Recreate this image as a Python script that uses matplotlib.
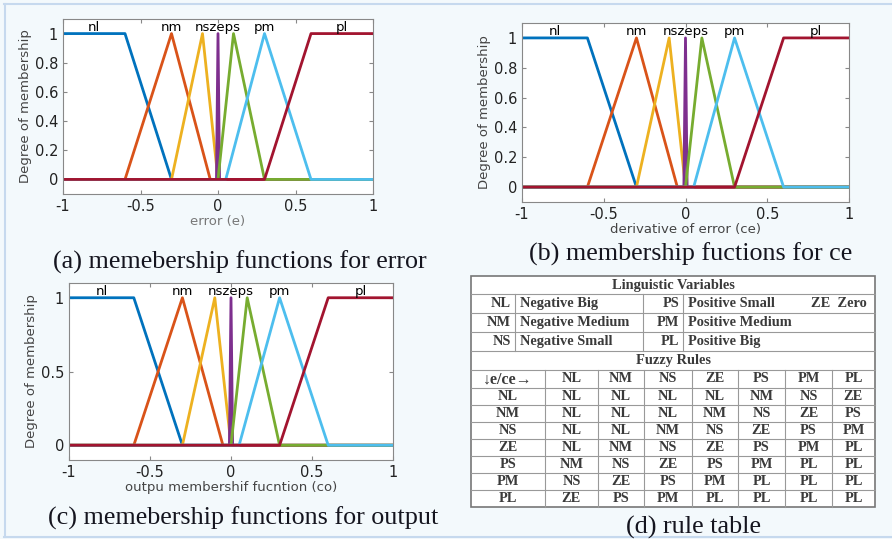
import numpy as np
import matplotlib.pyplot as plt

# membership functions (same sets on e, ce and output)
mf_names = ["nl", "nm", "ns", "ze", "ps", "pm", "pl"]
mf_points = [
    [-1.0, -1.0, -0.6, -0.3],
    [-0.6, -0.3, -0.3, -0.05],
    [-0.3, -0.1, -0.1, 0.0],
    [-0.01, 0.0, 0.0, 0.01],
    [0.0, 0.1, 0.1, 0.3],
    [0.05, 0.3, 0.3, 0.6],
    [0.3, 0.6, 1.0, 1.0],
]
label_x = [-0.8, -0.3, -0.12, 0.0, 0.11, 0.3, 0.8]
mf_colors = ["#0072BD", "#D95319", "#EDB120", "#7E2F8E", "#77AC30", "#4DBEEE", "#A2142F"]

# linguistic variables
ling_rows = [["NL", "Negative Big", "PS", "Positive Small", "ZE  Zero"],
             ["NM", "Negative Medium", "PM", "Positive Medium", ""],
             ["NS", "Negative Small", "PL", "Positive Big", ""]]

# rule table
rule_cols = ["NL", "NM", "NS", "ZE", "PS", "PM", "PL"]
rule_rows = ["NL", "NM", "NS", "ZE", "PS", "PM", "PL"]
rules = [
    ["NL", "NL", "NL", "NL", "NM", "NS", "ZE"],
    ["NL", "NL", "NL", "NM", "NS", "ZE", "PS"],
    ["NL", "NL", "NM", "NS", "ZE", "PS", "PM"],
    ["NL", "NM", "NS", "ZE", "PS", "PM", "PL"],
    ["NM", "NS", "ZE", "PS", "PM", "PL", "PL"],
    ["NS", "ZE", "PS", "PM", "PL", "PL", "PL"],
    ["ZE", "PS", "PM", "PL", "PL", "PL", "PL"],
]

W, H = 892, 539
fig = plt.figure(figsize=(W / 100, H / 100), dpi=100)
fig.patch.set_facecolor("#f3f9fc")


def trapmf(x, p):
    a, b, c, d = p
    y = np.ones_like(x)
    if b > a:
        y = np.minimum(y, (x - a) / (b - a))
    else:
        y = np.where(x < a, 0.0, y)
    if d > c:
        y = np.minimum(y, (d - x) / (d - c))
    else:
        y = np.where(x > d, 0.0, y)
    return np.clip(y, 0, 1)


def mf_panel(rect, xlabel, yticks, xlcolor):
    ax = fig.add_axes(rect)
    x = np.linspace(-1, 1, 2001)
    for p, c in zip(mf_points, mf_colors):
        ax.plot(x, trapmf(x, p), color=c, lw=2)
    # labels drawn as in matlab plotmf (ns, ze, ps run together)
    ax.text(label_x[0], 1.0, mf_names[0], ha="center", va="bottom", fontsize=9.5)
    ax.text(label_x[1], 1.0, mf_names[1], ha="center", va="bottom", fontsize=9.5)
    ax.text(label_x[3], 1.0, "".join(mf_names[2:5]), ha="center", va="bottom",
            fontsize=9.5)
    ax.text(label_x[5], 1.0, mf_names[5], ha="center", va="bottom", fontsize=9.5)
    ax.text(label_x[6], 1.0, mf_names[6], ha="center", va="bottom", fontsize=9.5)
    ax.set_xlim(-1, 1)
    ax.set_ylim(-0.1, 1.1)
    ax.set_xticks([-1, -0.5, 0, 0.5, 1])
    ax.set_xticklabels(["-1", "-0.5", "0", "0.5", "1"])
    ax.set_yticks(yticks)
    ax.set_yticklabels([("%g" % t) for t in yticks])
    ax.tick_params(direction="in", top=True, right=True, labelsize=10.5,
                   length=3, color="#888888", labelcolor="#222222")
    for s in ax.spines.values():
        s.set_color("#888888")
    ax.set_xlabel(xlabel, fontsize=9.5, color=xlcolor, labelpad=1)
    ax.set_ylabel("Degree of membership", fontsize=9.5, color="#444444", labelpad=2)
    return ax


mf_panel([63 / W, 1 - 194 / H, 310 / W, 175 / H], "error (e)",
         [0, 0.2, 0.4, 0.6, 0.8, 1], "#777777")
mf_panel([522 / W, 1 - 202 / H, 327 / W, 179 / H], "derivative of error (ce)",
         [0, 0.2, 0.4, 0.6, 0.8, 1], "#444444")
mf_panel([69 / W, 1 - 460 / H, 324 / W, 177 / H], "outpu membershif fucntion (co)",
         [0, 0.5, 1], "#444444")

# overlay in pixel coordinates for captions, border and table
ov = fig.add_axes([0, 0, 1, 1])
ov.set_xlim(0, W)
ov.set_ylim(H, 0)
ov.axis("off")
ov.patch.set_alpha(0)

bc = "#c6d9ee"
ov.plot([4, W], [4, 4], color=bc, lw=1.5)
ov.plot([4.5, 4.5], [4, 537], color=bc, lw=1.5)
ov.plot([4, W], [537, 537], color=bc, lw=1.5)

cap = dict(family="Liberation Serif", fontsize=18.8, color="#15151f",
           ha="center", va="center")
ov.text(240, 262, "(a) memebership functions for error", **cap)
ov.text(691, 254, "(b) membership fuctions for ce", **cap)
ov.text(243, 518, "(c) memebership functions for output", **cap)
ov.text(693, 527, "(d) rule table", **cap)

# table
tl, tr = 471, 875
tt, tb = 276, 507
ov.add_patch(plt.Rectangle((tl, tt), tr - tl, tb - tt, facecolor="white",
                           edgecolor="#777777", lw=1.2))
lc = "#999999"
tf = dict(family="Liberation Serif", fontsize=10.4, fontweight="bold",
          color="#3a3a3a", va="center")
row_y = [276, 294, 313, 332, 351, 370, 388]
for yy in row_y[1:]:
    ov.plot([tl, tr], [yy, yy], color=lc, lw=0.8)
ov.text((tl + tr) / 2, (row_y[0] + row_y[1]) / 2, "Linguistic Variables",
        ha="center", **tf)
ov.text((tl + tr) / 2, (row_y[4] + row_y[5]) / 2, "Fuzzy Rules",
        ha="center", **tf)

lx = [471, 515, 643, 683, 875]
for xx in lx[1:4]:
    ov.plot([xx, xx], [row_y[1], row_y[4]], color=lc, lw=0.8)
for i, r in enumerate(ling_rows):
    yc = (row_y[i + 1] + row_y[i + 2]) / 2
    ov.text(511, yc, r[0], ha="right", **tf)
    ov.text(520, yc, r[1], ha="left", **tf)
    ov.text(679, yc, r[2], ha="right", **tf)
    ov.text(688, yc, r[3], ha="left", **tf)
    if r[4]:
        ov.text(811, yc, r[4], ha="left", **tf)

cx = [471, 545, 598, 644, 692, 738, 785, 832, 875]
n = len(rule_rows)
ry = np.linspace(388, 507, n + 1)
for xx in cx[1:-1]:
    ov.plot([xx, xx], [row_y[5], tb], color=lc, lw=0.8)
for yy in ry[1:-1]:
    ov.plot([tl, tr], [yy, yy], color=lc, lw=0.8)
ov.text((cx[0] + cx[1]) / 2, (row_y[5] + row_y[6]) / 2 + 1,
        "\u2193e/ce\u2192", ha="center", **dict(tf, fontsize=11.5))
for j, c in enumerate(rule_cols):
    ov.text((cx[j + 1] + cx[j + 2]) / 2, (row_y[5] + row_y[6]) / 2 - 1, c,
            ha="center", **tf)
for i, rn in enumerate(rule_rows):
    yc = (ry[i] + ry[i + 1]) / 2
    ov.text((cx[0] + cx[1]) / 2, yc, rn, ha="center", **tf)
    for j, v in enumerate(rules[i]):
        ov.text((cx[j + 1] + cx[j + 2]) / 2, yc, v, ha="center", **tf)

fig.savefig("out.png", dpi=100, facecolor=fig.get_facecolor())
